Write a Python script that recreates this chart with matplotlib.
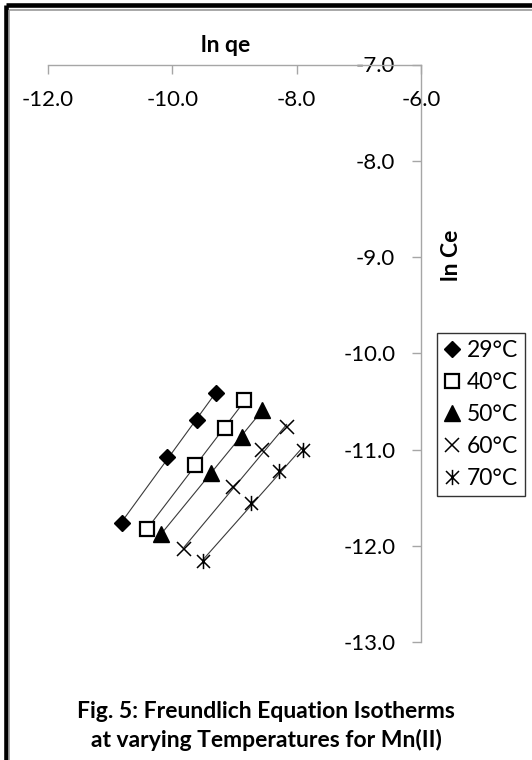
import matplotlib
matplotlib.use("Agg")
import matplotlib.pyplot as plt
import numpy as np
from matplotlib.path import Path
from matplotlib.lines import Line2D

plt.rcParams["font.family"] = ["Lato", "DejaVu Sans"]

# ln qe (x) and ln Ce (y), one pair of lists per temperature
temps = ["29°C", "40°C", "50°C", "60°C", "70°C"]
ln_qe_29 = [-10.81, -10.08, -9.60, -9.30]
ln_ce_29 = [-11.76, -11.08, -10.69, -10.41]
ln_qe_40 = [-10.41, -9.63, -9.15, -8.84]
ln_ce_40 = [-11.83, -11.16, -10.78, -10.49]
ln_qe_50 = [-10.18, -9.38, -8.88, -8.56]
ln_ce_50 = [-11.88, -11.24, -10.87, -10.59]
ln_qe_60 = [-9.81, -9.02, -8.55, -8.16]
ln_ce_60 = [-12.03, -11.39, -11.01, -10.77]
ln_qe_70 = [-9.50, -8.73, -8.28, -7.90]
ln_ce_70 = [-12.16, -11.56, -11.22, -11.01]

x_ticks = [-12.0, -10.0, -8.0, -6.0]
y_ticks = [-13.0, -12.0, -11.0, -10.0, -9.0, -8.0, -7.0]

# asterisk marker: vertical bar plus an X
star = Path(
    [(0, -1), (0, 1), (-0.85, -0.85), (0.85, 0.85), (-0.85, 0.85), (0.85, -0.85)],
    [Path.MOVETO, Path.LINETO, Path.MOVETO, Path.LINETO, Path.MOVETO, Path.LINETO])

STYLES = [
    dict(marker="D", ms=8, mfc="black", mec="black", mew=1),
    dict(marker="s", ms=9.5, mfc="white", mec="black", mew=1.6),
    dict(marker="^", ms=11, mfc="black", mec="black", mew=1),
    dict(marker="x", ms=10, mfc="none", mec="black", mew=1.1),
    dict(marker=star, ms=11, mfc="none", mec="black", mew=1.1),
]

W, H = 532, 760
fig = plt.figure(figsize=(W / 100, H / 100), dpi=100, facecolor="white")
ax = fig.add_axes([47.8 / W, 1 - 642 / H, (421 - 47.8) / W, (642 - 64.5) / H])

series = [(ln_qe_29, ln_ce_29), (ln_qe_40, ln_ce_40), (ln_qe_50, ln_ce_50),
          (ln_qe_60, ln_ce_60), (ln_qe_70, ln_ce_70)]

handles = []
for (xs, ys), st, lab in zip(series, STYLES, temps):
    xs = np.array(xs)
    ys = np.array(ys)
    # linear trendline over the data range
    k, b = np.polyfit(xs, ys, 1)
    xr = np.array([xs.min(), xs.max()])
    ax.plot(xr, k * xr + b, color="#3a3a3a", lw=0.8, zorder=2)
    h, = ax.plot(xs, ys, linestyle="none", label=lab, zorder=3, **st)
    handles.append(h)

ax.set_xlim(-12, -6)
ax.set_ylim(-13, -7)

# axes cross at the top right, Excel style
ax.spines["bottom"].set_position(("data", -7))
ax.spines["left"].set_position(("data", -6))
ax.spines["top"].set_visible(False)
ax.spines["right"].set_visible(False)
for s in ("bottom", "left"):
    ax.spines[s].set_color("#a6a6a6")
    ax.spines[s].set_linewidth(1.0)

ax.set_xticks(x_ticks)
ax.set_yticks(y_ticks)
ax.set_xticklabels([f"{v:.1f}" for v in x_ticks])
ax.set_yticklabels([f"{v:.1f}" for v in y_ticks])
ax.tick_params(axis="both", direction="out", length=6.5, width=1.0,
               color="#a6a6a6", labelsize=16, labelcolor="black")
ax.tick_params(axis="x", pad=12)
ax.tick_params(axis="y", pad=12)
ax.patch.set_alpha(0)

# axis titles
fig.text(226 / W, 1 - 52.5 / H, "ln qe", ha="center", va="baseline",
         fontsize=16.5, fontweight="bold")
fig.text(452 / W, 1 - 255 / H, "ln Ce", ha="center", va="center",
         rotation=90, fontsize=16.5, fontweight="bold")

leg = ax.legend(handles=handles, loc="upper left",
                bbox_to_anchor=(437 / W, 1 - 333 / H),
                bbox_transform=fig.transFigure, frameon=True, fancybox=False,
                edgecolor="black", fontsize=16.5, handlelength=0.7,
                handletextpad=0.3, borderpad=0.3, labelspacing=0.48,
                borderaxespad=0)
leg.get_frame().set_linewidth(1.0)

# caption
fig.text(0.5, 1 - 711 / H, "Fig. 5: Freundlich Equation Isotherms",
         ha="center", va="center", fontsize=16.5, fontweight="bold")
fig.text(0.5, 1 - 740 / H, "at varying Temperatures for Mn(II)",
         ha="center", va="center", fontsize=16.5, fontweight="bold")

# page frame: thick black with thin grey inside, on top and left only
def px_line(x0, y0, x1, y1, color, lw):
    fig.add_artist(Line2D([x0 / W, x1 / W], [1 - y0 / H, 1 - y1 / H],
                          transform=fig.transFigure, color=color, lw=lw,
                          solid_capstyle="butt"))

px_line(5.5, 4.5, W, 4.5, "black", 3.3)
px_line(5.5, 4.5, 5.5, H, "black", 3.3)
px_line(8.8, 9.8, W, 9.8, "#9a9a9a", 1.2)
px_line(8.8, 9.8, 8.8, H, "#9a9a9a", 1.2)

fig.savefig("out.png", dpi=100, facecolor="white")
